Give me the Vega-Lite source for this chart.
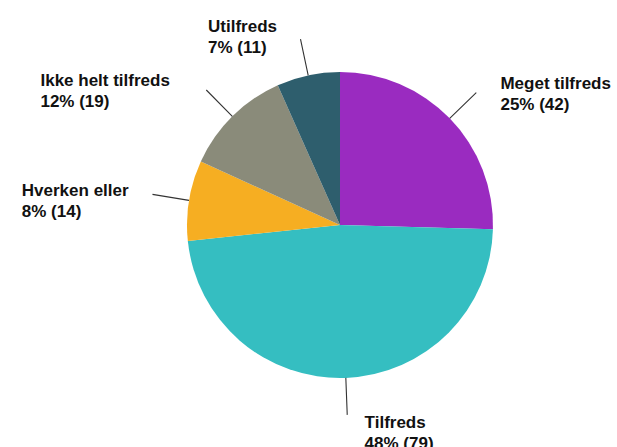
{
  "$schema": "https://vega.github.io/schema/vega-lite/v6.json",
  "width": 554,
  "height": 446,
  "autosize": "none",
  "padding": {"left": 63, "top": 2, "right": 0, "bottom": 0},
  "background": "white",
  "view": {"stroke": null},
  "data": {
    "values": [
      {"category": "Meget tilfreds", "count": 42, "rank": 1, "label": "Meget tilfreds\n25% (42)"},
      {"category": "Tilfreds", "count": 79, "rank": 2, "label": "Tilfreds\n48% (79)"},
      {"category": "Hverken eller", "count": 14, "rank": 3, "label": "Hverken eller\n8% (14)"},
      {"category": "Ikke helt tilfreds", "count": 19, "rank": 4, "label": "Ikke helt tilfreds\n12% (19)"},
      {"category": "Utilfreds", "count": 11, "rank": 5, "label": "Utilfreds\n7% (11)"}
    ]
  },
  "encoding": {
    "theta": {"field": "count", "type": "quantitative", "stack": true},
    "order": {"field": "rank", "type": "ordinal"}
  },
  "layer": [
    {
      "mark": {"type": "arc", "outerRadius": 153},
      "encoding": {
        "color": {
          "field": "category",
          "type": "nominal",
          "scale": {
            "domain": ["Meget tilfreds", "Tilfreds", "Hverken eller", "Ikke helt tilfreds", "Utilfreds"],
            "range": ["#9A2BC0", "#35BEC1", "#F6AE22", "#8A8B7A", "#2E5E6D"]
          },
          "legend": null
        }
      }
    },
    {
      "mark": {"type": "arc", "radius": 190, "radius2": 153, "padAngle": 3.1416, "fill": "transparent", "stroke": "#333333", "strokeWidth": 1.1}
    },
    {
      "mark": {
        "type": "text",
        "radius": 200,
        "font": "Liberation Sans",
        "fontWeight": "bold",
        "fontSize": 17,
        "lineHeight": 21,
        "lineBreak": "\n",
        "baseline": "middle",
        "align": "left",
        "dx": {"expr": "datum.count_start + datum.count_end < 165 ? 17 : -22 - 7.6 * length(split(datum.label, '\\n')[0])"},
        "dy": -2,
        "color": "#111111"
      },
      "encoding": {"text": {"field": "label"}}
    }
  ]
}
